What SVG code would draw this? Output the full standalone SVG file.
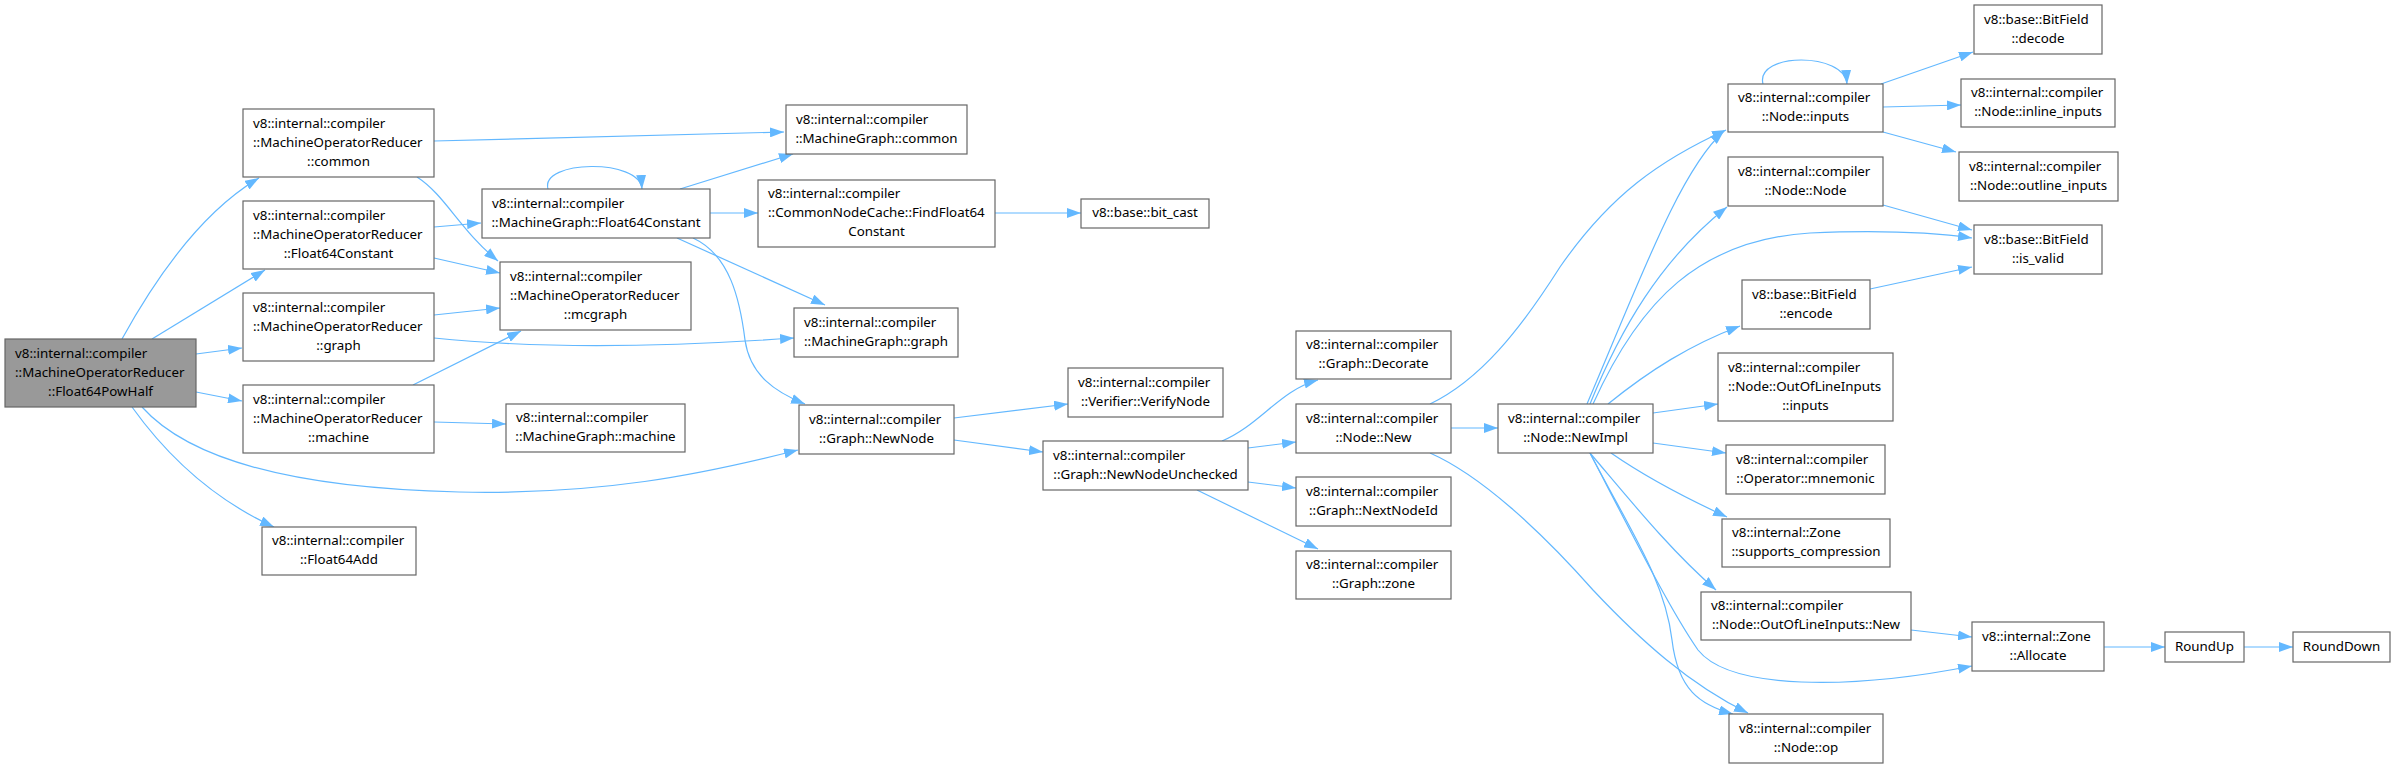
<svg xmlns="http://www.w3.org/2000/svg" width="2395" height="769" viewBox="0 0 2395 769">
<style>
.node rect{fill:#ffffff;stroke:#666666;stroke-width:1.2}
.root rect{fill:#999999;stroke:#666666;stroke-width:1.2}
text{font-family:"Noto Sans","Open Sans","DejaVu Sans",sans-serif;font-size:13.33px;fill:#000000}
.c{text-anchor:middle}
.edge path{fill:none;stroke:#63b8ff;stroke-width:1.2;marker-end:url(#arr)}
</style>
<defs>
<marker id="arr" viewBox="0 0 14 10" refX="14" refY="5" markerWidth="14" markerHeight="10" markerUnits="userSpaceOnUse" orient="auto">
<path d="M0,0 L14,5 L0,10 z" fill="#63b8ff"/>
</marker>
</defs>
<rect width="2395" height="769" fill="#ffffff"/>
<g id="connectors" class="edge">
<path d="M122,339 C160,270 205,210 259,178"/>
<path d="M152,339 L265,270"/>
<path d="M196,354 L242,348"/>
<path d="M196,392 L242,401"/>
<path d="M132,407 C170,460 215,500 274,527"/>
<path d="M142,407 C185,455 280,488 459,492 C600,495 700,475 798,450"/>
<path d="M434,141 L784,132"/>
<path d="M417,177 C445,195 460,230 498,261"/>
<path d="M434,227 L481,223"/>
<path d="M434,258 L500,273"/>
<path d="M434,315 L500,308"/>
<path d="M434,338 C550,350 680,346 794,338"/>
<path d="M413,385 L521,331"/>
<path d="M434,422 L506,424"/>
<path d="M548,189 C540,160 640,158 642,189"/>
<path d="M680,189 L793,154"/>
<path d="M710,213 L758,213"/>
<path d="M677,238 L825,305"/>
<path d="M693,238 C730,255 740,300 745,340 C750,375 775,392 805,404"/>
<path d="M995,213 L1081,213"/>
<path d="M954,418 L1068,404"/>
<path d="M954,440 L1043,452"/>
<path d="M1222,441 C1260,425 1280,390 1318,380"/>
<path d="M1248,448 L1296,442"/>
<path d="M1248,482 L1296,488"/>
<path d="M1197,490 L1318,549"/>
<path d="M1451,428 L1498,428"/>
<path d="M1430,404 C1480,380 1520,330 1560,267 C1610,195 1660,160 1726,130"/>
<path d="M1430,453 C1480,475 1540,530 1593,590 C1640,640 1690,685 1748,713"/>
<path d="M1587,404 C1640,280 1680,170 1724,131"/>
<path d="M1590,404 C1620,330 1660,260 1727,207"/>
<path d="M1593,404 C1640,300 1700,240 1810,233 C1880,230 1930,232 1972,238"/>
<path d="M1608,404 C1650,370 1690,345 1740,326"/>
<path d="M1653,413 L1718,404"/>
<path d="M1653,443 L1726,453"/>
<path d="M1611,453 C1650,480 1690,500 1727,517"/>
<path d="M1590,453 C1630,500 1670,550 1716,590"/>
<path d="M1590,453 C1630,530 1670,610 1698,650 C1730,690 1850,690 1972,666"/>
<path d="M1590,453 C1630,530 1665,580 1672,640 C1678,690 1700,705 1733,714"/>
<path d="M1763,84 C1755,52 1845,52 1847,84"/>
<path d="M1881,84 L1973,52"/>
<path d="M1883,107 L1961,105"/>
<path d="M1883,132 L1956,152"/>
<path d="M1883,205 L1972,230"/>
<path d="M1870,289 L1972,267"/>
<path d="M1911,630 L1972,637"/>
<path d="M2104,647 L2165,647"/>
<path d="M2244,647 L2293,647"/>
</g>
<g id="n0" class="root"><rect x="5" y="339" width="191" height="68"/><text x="15" y="357.5">v8::internal::compiler</text><text x="15" y="376.5">::MachineOperatorReducer</text><text class="c" x="100.5" y="395.5">::Float64PowHalf</text></g>
<g id="n1" class="node"><rect x="243" y="109" width="191" height="68"/><text x="253" y="127.5">v8::internal::compiler</text><text x="253" y="146.5">::MachineOperatorReducer</text><text class="c" x="338.5" y="165.5">::common</text></g>
<g id="n2" class="node"><rect x="243" y="201" width="191" height="68"/><text x="253" y="219.5">v8::internal::compiler</text><text x="253" y="238.5">::MachineOperatorReducer</text><text class="c" x="338.5" y="257.5">::Float64Constant</text></g>
<g id="n3" class="node"><rect x="243" y="293" width="191" height="68"/><text x="253" y="311.5">v8::internal::compiler</text><text x="253" y="330.5">::MachineOperatorReducer</text><text class="c" x="338.5" y="349.5">::graph</text></g>
<g id="n4" class="node"><rect x="243" y="385" width="191" height="68"/><text x="253" y="403.5">v8::internal::compiler</text><text x="253" y="422.5">::MachineOperatorReducer</text><text class="c" x="338.5" y="441.5">::machine</text></g>
<g id="n5" class="node"><rect x="262" y="527" width="154" height="48"/><text x="272" y="545">v8::internal::compiler</text><text class="c" x="339" y="564">::Float64Add</text></g>
<g id="n6" class="node"><rect x="482" y="189" width="228" height="49"/><text x="492" y="207.5">v8::internal::compiler</text><text class="c" x="596" y="226.5">::MachineGraph::Float64Constant</text></g>
<g id="n7" class="node"><rect x="500" y="262" width="191" height="68"/><text x="510" y="280.5">v8::internal::compiler</text><text x="510" y="299.5">::MachineOperatorReducer</text><text class="c" x="595.5" y="318.5">::mcgraph</text></g>
<g id="n8" class="node"><rect x="506" y="404" width="179" height="48"/><text x="516" y="422">v8::internal::compiler</text><text class="c" x="595.5" y="441">::MachineGraph::machine</text></g>
<g id="n9" class="node"><rect x="786" y="105" width="181" height="49"/><text x="796" y="123.5">v8::internal::compiler</text><text class="c" x="876.5" y="142.5">::MachineGraph::common</text></g>
<g id="n10" class="node"><rect x="758" y="180" width="237" height="67"/><text x="768" y="198">v8::internal::compiler</text><text x="768" y="217">::CommonNodeCache::FindFloat64</text><text class="c" x="876.5" y="236">Constant</text></g>
<g id="n11" class="node"><rect x="1081" y="199" width="128" height="29"/><text class="c" x="1145" y="217">v8::base::bit_cast</text></g>
<g id="n12" class="node"><rect x="794" y="308" width="164" height="49"/><text x="804" y="326.5">v8::internal::compiler</text><text class="c" x="876" y="345.5">::MachineGraph::graph</text></g>
<g id="n13" class="node"><rect x="799" y="405" width="155" height="49"/><text x="809" y="423.5">v8::internal::compiler</text><text class="c" x="876.5" y="442.5">::Graph::NewNode</text></g>
<g id="n14" class="node"><rect x="1068" y="368" width="155" height="49"/><text x="1078" y="386.5">v8::internal::compiler</text><text class="c" x="1145.5" y="405.5">::Verifier::VerifyNode</text></g>
<g id="n15" class="node"><rect x="1043" y="441" width="205" height="49"/><text x="1053" y="459.5">v8::internal::compiler</text><text class="c" x="1145.5" y="478.5">::Graph::NewNodeUnchecked</text></g>
<g id="n16" class="node"><rect x="1296" y="331" width="155" height="48"/><text x="1306" y="349">v8::internal::compiler</text><text class="c" x="1373.5" y="368">::Graph::Decorate</text></g>
<g id="n17" class="node"><rect x="1296" y="404" width="155" height="49"/><text x="1306" y="422.5">v8::internal::compiler</text><text class="c" x="1373.5" y="441.5">::Node::New</text></g>
<g id="n18" class="node"><rect x="1296" y="477" width="155" height="49"/><text x="1306" y="495.5">v8::internal::compiler</text><text class="c" x="1373.5" y="514.5">::Graph::NextNodeId</text></g>
<g id="n19" class="node"><rect x="1296" y="551" width="155" height="48"/><text x="1306" y="569">v8::internal::compiler</text><text class="c" x="1373.5" y="588">::Graph::zone</text></g>
<g id="n20" class="node"><rect x="1498" y="404" width="155" height="49"/><text x="1508" y="422.5">v8::internal::compiler</text><text class="c" x="1575.5" y="441.5">::Node::NewImpl</text></g>
<g id="n21" class="node"><rect x="1728" y="84" width="155" height="48"/><text x="1738" y="102">v8::internal::compiler</text><text class="c" x="1805.5" y="121">::Node::inputs</text></g>
<g id="n22" class="node"><rect x="1728" y="157" width="155" height="49"/><text x="1738" y="175.5">v8::internal::compiler</text><text class="c" x="1805.5" y="194.5">::Node::Node</text></g>
<g id="n23" class="node"><rect x="1742" y="280" width="128" height="49"/><text x="1752" y="298.5">v8::base::BitField</text><text class="c" x="1806" y="317.5">::encode</text></g>
<g id="n24" class="node"><rect x="1718" y="353" width="175" height="68"/><text x="1728" y="371.5">v8::internal::compiler</text><text x="1728" y="390.5">::Node::OutOfLineInputs</text><text class="c" x="1805.5" y="409.5">::inputs</text></g>
<g id="n25" class="node"><rect x="1726" y="445" width="159" height="49"/><text x="1736" y="463.5">v8::internal::compiler</text><text class="c" x="1805.5" y="482.5">::Operator::mnemonic</text></g>
<g id="n26" class="node"><rect x="1722" y="519" width="168" height="48"/><text x="1732" y="537">v8::internal::Zone</text><text class="c" x="1806" y="556">::supports_compression</text></g>
<g id="n27" class="node"><rect x="1701" y="592" width="210" height="48"/><text x="1711" y="610">v8::internal::compiler</text><text class="c" x="1806" y="629">::Node::OutOfLineInputs::New</text></g>
<g id="n28" class="node"><rect x="1729" y="714" width="154" height="49"/><text x="1739" y="732.5">v8::internal::compiler</text><text class="c" x="1806" y="751.5">::Node::op</text></g>
<g id="n29" class="node"><rect x="1974" y="5" width="128" height="49"/><text x="1984" y="23.5">v8::base::BitField</text><text class="c" x="2038" y="42.5">::decode</text></g>
<g id="n30" class="node"><rect x="1961" y="79" width="154" height="48"/><text x="1971" y="97">v8::internal::compiler</text><text class="c" x="2038" y="116">::Node::inline_inputs</text></g>
<g id="n31" class="node"><rect x="1959" y="152" width="159" height="49"/><text x="1969" y="170.5">v8::internal::compiler</text><text class="c" x="2038.5" y="189.5">::Node::outline_inputs</text></g>
<g id="n32" class="node"><rect x="1974" y="225" width="128" height="49"/><text x="1984" y="243.5">v8::base::BitField</text><text class="c" x="2038" y="262.5">::is_valid</text></g>
<g id="n33" class="node"><rect x="1972" y="622" width="132" height="49"/><text x="1982" y="640.5">v8::internal::Zone</text><text class="c" x="2038" y="659.5">::Allocate</text></g>
<g id="n34" class="node"><rect x="2165" y="632" width="79" height="30"/><text class="c" x="2204.5" y="651">RoundUp</text></g>
<g id="n35" class="node"><rect x="2293" y="632" width="97" height="30"/><text class="c" x="2341.5" y="651">RoundDown</text></g>
</svg>
